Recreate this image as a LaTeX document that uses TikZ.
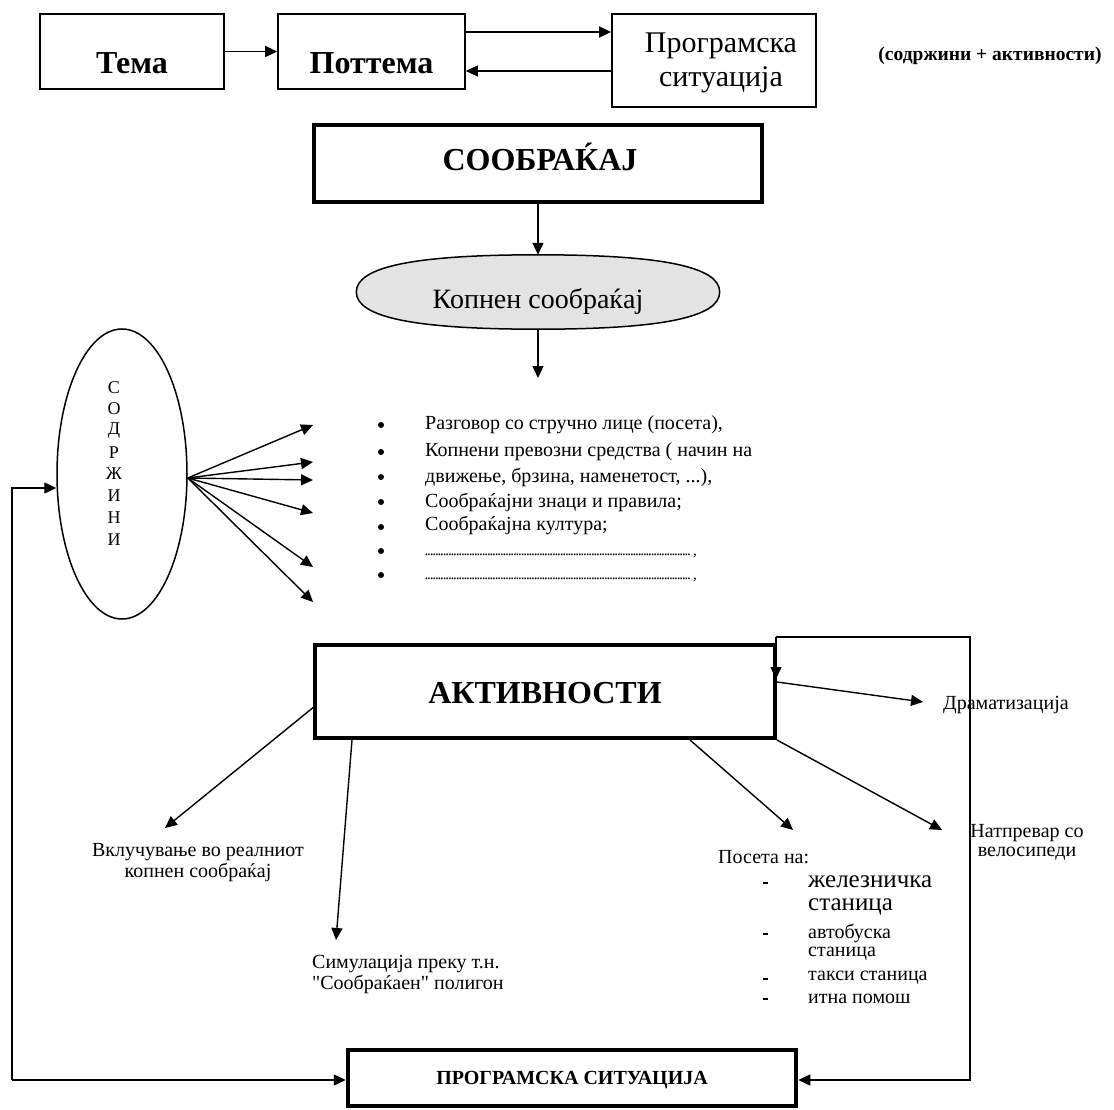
\documentclass[tikz,border=0pt]{standalone}
\usepackage{fontspec}
\setmainfont{Liberation Serif}
\usetikzlibrary{arrows.meta,shapes.geometric}
\newcommand{\fs}[1]{\fontsize{#1}{#1}\selectfont}
\newcommand{\dotrow}{\makebox[268pt][l]{\leaders\hbox to 2.6pt{\hss.\hss}\hskip 266pt},}
\newcommand{\sq}{{\addfontfeature{Ligatures=TeXOff}"}}
\begin{document}
\begin{tikzpicture}[x=1pt,y=-1pt,
  arr/.style={line width=1.4pt,-{Triangle[length=12pt,width=11pt]}},
  thinbox/.style={draw,line width=1.6pt,inner sep=0pt},
  thickbox/.style={draw,line width=4pt,inner sep=0pt},
  txt/.style={inner sep=0pt,font=\fs{20}},
  lft/.style={txt,anchor=west},
  bul/.style={circle,fill,inner sep=0pt,minimum size=6pt},
  dashmark/.style={fill,inner sep=0pt,minimum width=5pt,minimum height=1.3pt}]
\useasboundingbox (0,0) rectangle (1114,1110);

% ---------- top row ----------
\node[thinbox,minimum width=184pt,minimum height=75pt] (tema) at (132,51.5) {};
\node[thinbox,minimum width=187pt,minimum height=75pt] (pott) at (371.5,51.5) {};
\node[thinbox,minimum width=204pt,minimum height=93pt] (progs) at (714,60.5) {};
\node[inner sep=0pt,font=\bfseries\fs{32}] (ttema) at (132,63) {Тема};
\node[inner sep=0pt,font=\bfseries\fs{32}] (tpott) at (371.5,63) {Поттема};
\node[inner sep=0pt,font=\fs{30}] (tprog1) at (721,46) {Програмска};
\node[inner sep=0pt,font=\fs{30}] (tprog2) at (721,80) {ситуација};
\node[inner sep=0pt,font=\bfseries\fs{19.5}] (note) at (990,56) {(содржини + активности)};

\draw[arr] (tema) -- (pott);
\draw[arr] ([yshift=19.5pt]pott.east) -- ([yshift=28.5pt]progs.west);
\draw[arr] ([yshift=-10.5pt]progs.west) -- ([yshift=-19.5pt]pott.east);

% ---------- traffic ----------
\node[thickbox,minimum width=448pt,minimum height=77pt] (sob) at (538,163.5) {};
\node[inner sep=0pt,font=\bfseries\fs{32}] (tsob) at (540,157) {СООБРАЌАЈ};
\node[inner sep=0pt,minimum width=363pt,minimum height=74pt] (kop) at (538,292) {};
\draw[line width=1.5pt,fill=gray!22]
  (kop.west) .. controls +(0,-25) and +(-125,0) .. (kop.north)
             .. controls +(125,0) and +(0,-25) .. (kop.east)
             .. controls +(0,25) and +(125,0) .. (kop.south)
             .. controls +(-125,0) and +(0,25) .. (kop.west) -- cycle;
\node[inner sep=0pt,font=\fs{28}] (tkop) at (538,301) {Копнен сообраќај};
\draw[arr] (sob) -- (kop);
\coordinate (kt) at (538,378);
\draw[arr] (kop) -- (kt);

% ---------- contents ellipse ----------
\node[draw,ellipse,line width=1.5pt,minimum width=130pt,minimum height=290pt,inner sep=0pt] (sod) at (122,474) {};
\foreach \l/\yy [count=\i] in {С/388,О/409,Д/431,Р/453,Ж/474,И/496,Н/518,И/540}
  \node[inner sep=0pt,font=\fs{18}] (sl\i) at (114,\yy) {\l};

\foreach \ty [count=\i] in {425,462,480,513,567,602}{
  \coordinate (ct\i) at (313,\ty);
  \draw[arr] ([yshift=-4pt]sod.east) -- (ct\i);
}

% ---------- bullet list ----------
\foreach \yy [count=\i] in {425,452,477,502,527,551,575}
  \node[bul] (b\i) at (381,\yy) {};
\node[lft] (i1) at (425,425) {Разговор со стручно лице (посета),};
\node[lft] (i2) at (425,452) {Копнени превозни средства ( начин на};
\node[lft] (i3) at (425,477) {движење, брзина, наменетост, ...),};
\node[lft] (i4) at (425,502) {Сообраќајни знаци и правила;};
\node[lft] (i5) at (425,525) {Сообраќајна култура;};
\node[txt,anchor=base west,font=\fs{15}] (i6) at (425,555) {\dotrow};
\node[txt,anchor=base west,font=\fs{15}] (i7) at (425,579) {\dotrow};

% ---------- activities ----------
\node[thickbox,minimum width=460pt,minimum height=93pt] (akt) at (545,691.5) {};
\node[inner sep=0pt,font=\bfseries\fs{32}] (takt) at (545,693) {АКТИВНОСТИ};

\node[thickbox,line width=4.5pt,minimum width=448pt,minimum height=56pt] (prog2) at (572,1078) {};
\node[inner sep=0pt,font=\bfseries\fs{20}] (tprog2b) at (572,1080) {ПРОГРАМСКА СИТУАЦИЈА};

% right loop
\coordinate (r1) at (776,637);
\coordinate (r2) at (970,637);
\coordinate (r3) at (970,1080);
\coordinate (r0) at (776,679);
\draw[arr] (r1) -- (r0);
\draw[arr] (r1) -- (r2) -- (r3) -- (prog2.east |- r3);

% left loop
\coordinate (l1) at (12,488);
\coordinate (l2) at (12,1080);
\draw[arr] (l2) -- (l1) -- (sod.west |- l1);
\draw[arr] (l2) -- (prog2.west |- l2);

% activity arrows
\coordinate (ds) at (777,682);
\coordinate (dt) at (923,702);
\draw[arr] (ds) -- (dt);
\node[lft] (tdram) at (943,705) {Драматизација};

\coordinate (nt) at (942,830);
\draw[arr] (akt.south east) -- (nt);
\node[txt,align=center] (tnat) at (1027,842) {Натпревар со\\[-1pt]велосипеди};

\coordinate (ps) at (690,740);
\coordinate (pt) at (793,830);
\draw[arr] (ps) -- (pt);
\node[lft] (tpos) at (718,857) {Посета на:};
\foreach \yy [count=\i] in {883,934,979,999}
  \node[dashmark] (dsh\i) at (765,\yy) {};
\node[lft,font=\fs{25}] (p1) at (808,882) {железничка};
\node[lft,font=\fs{25}] (p2) at (808,907) {станица};
\node[lft] (p3) at (808,933) {автобуска};
\node[lft] (p4) at (808,954) {станица};
\node[lft] (p5) at (808,978) {такси станица};
\node[lft] (p6) at (808,999) {итна помош};

\coordinate (vs) at (315,706);
\coordinate (vt) at (165,828);
\draw[arr] (vs) -- (vt);
\node[txt,align=center] (tvk) at (198,863) {Вклучување во реалниот\\[1pt]копнен сообраќај};

\coordinate (ss) at (352,740);
\coordinate (st) at (336,940);
\draw[arr] (ss) -- (st);
\node[txt,align=left,anchor=west] (tsim) at (312,975) {Симулација преку т.н.\\[1pt]\sq Сообраќаен\sq{} полигон};
\end{tikzpicture}
\end{document}
